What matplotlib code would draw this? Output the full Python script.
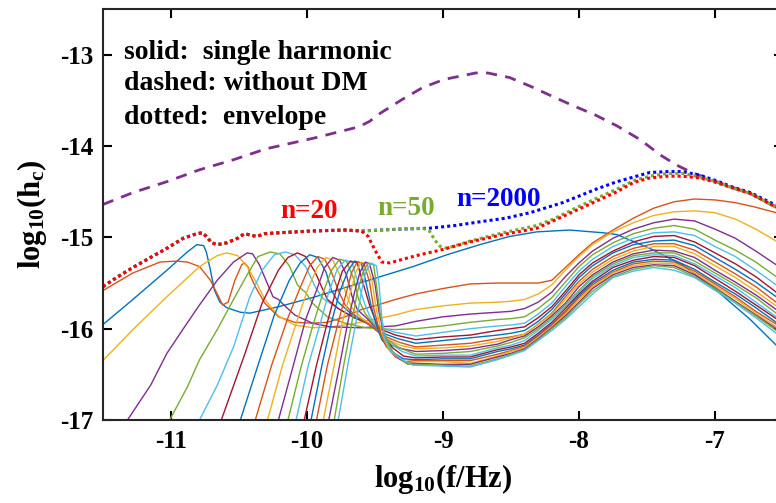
import matplotlib
matplotlib.use('Agg')
import matplotlib.pyplot as plt

plt.rcParams['font.family'] = 'Liberation Serif'
plt.rcParams['font.weight'] = 'bold'
plt.rcParams['mathtext.fontset'] = 'custom'
plt.rcParams['mathtext.rm'] = 'Liberation Serif:bold'
plt.rcParams['mathtext.it'] = 'Liberation Serif:bold'
plt.rcParams['mathtext.bf'] = 'Liberation Serif:bold'
plt.rcParams['axes.unicode_minus'] = False

# matlab default colour order
colors = ['#0072BD', '#D95319', '#EDB120', '#7E2F8E', '#77AC30', '#4DBEEE', '#A2142F']

# ---- harmonic n=1 (whole curve)
h1_f = [-11.52, -11.28, -11.03, -10.88, -10.81, -10.76, -10.74, -10.71, -10.68, -10.64,
        -10.59, -10.49, -10.42, -10.21, -9.96, -9.72, -9.46, -9.22, -8.97, -8.73,
        -8.51, -8.31, -8.07, -7.82, -7.72, -7.48, -7.24, -6.99, -6.74, -6.55]
h1_h = [-15.98, -15.68, -15.36, -15.16, -15.08, -15.09, -15.16, -15.36, -15.58, -15.71,
        -15.77, -15.82, -15.83, -15.76, -15.66, -15.55, -15.43, -15.32, -15.19, -15.08,
        -14.99, -14.94, -14.92, -14.95, -14.97, -15.12, -15.30, -15.58, -15.90, -16.18]

# ---- harmonics n=2..20, left part (each its own points)
head_f = [
    [-11.52, -11.28, -11.08, -10.96, -10.88, -10.79, -10.71, -10.65, -10.62, -10.58, -10.53, -10.48, -10.46,
     -10.43, -10.42, -10.38, -10.31, -10.21, -10.09, -9.96, -9.85, -9.72, -9.60, -9.48, -9.35],
    [-11.52, -11.28, -11.03, -10.79, -10.66, -10.59, -10.51, -10.44, -10.37, -10.31, -10.21, -10.09, -9.96,
     -9.82, -9.67, -9.52, -9.35],
    [-11.32, -11.15, -11.03, -10.90, -10.79, -10.66, -10.54, -10.44, -10.40, -10.35, -10.29, -10.25, -10.21,
     -10.17, -10.09, -9.96, -9.83, -9.61, -9.35],
    [-11.01, -10.88, -10.79, -10.66, -10.54, -10.44, -10.36, -10.27, -10.20, -10.13, -10.07, -10.03, -10.01,
     -9.96, -9.85, -9.72, -9.57, -9.35],
    [-10.79, -10.66, -10.54, -10.42, -10.33, -10.24, -10.16, -10.09, -10.01, -9.94, -9.89, -9.79, -9.67, -9.52, -9.35],
    [-10.63, -10.46, -10.33, -10.21, -10.14, -10.07, -10.01, -9.94, -9.89, -9.85, -9.77, -9.65, -9.50, -9.35],
    [-10.49, -10.36, -10.24, -10.13, -10.05, -9.98, -9.92, -9.86, -9.82, -9.77, -9.68, -9.57, -9.46, -9.33],
    [-10.38, -10.26, -10.14, -10.05, -9.98, -9.92, -9.87, -9.82, -9.77, -9.72, -9.65, -9.54, -9.45, -9.32],
    [-10.29, -10.18, -10.07, -9.99, -9.92, -9.86, -9.81, -9.76, -9.71, -9.67, -9.60, -9.50, -9.43, -9.32],
    [-10.21, -10.10, -10.01, -9.93, -9.87, -9.81, -9.76, -9.71, -9.67, -9.63, -9.55, -9.46, -9.42, -9.30],
    [-10.14, -10.04, -9.95, -9.88, -9.82, -9.76, -9.71, -9.66, -9.62, -9.57, -9.51, -9.43, -9.32],
    [-10.08, -9.99, -9.90, -9.84, -9.78, -9.72, -9.67, -9.63, -9.58, -9.54, -9.48, -9.40, -9.30],
    [-10.02, -9.93, -9.85, -9.79, -9.74, -9.68, -9.63, -9.59, -9.54, -9.50, -9.44, -9.37, -9.29],
    [-9.97, -9.89, -9.82, -9.76, -9.70, -9.65, -9.60, -9.57, -9.53, -9.49, -9.45, -9.38, -9.29],
    [-9.93, -9.85, -9.77, -9.71, -9.67, -9.63, -9.58, -9.54, -9.51, -9.47, -9.42, -9.35, -9.28],
    [-9.88, -9.80, -9.74, -9.68, -9.64, -9.60, -9.56, -9.52, -9.49, -9.45, -9.40, -9.33, -9.27],
    [-9.84, -9.76, -9.70, -9.65, -9.61, -9.57, -9.54, -9.50, -9.47, -9.43, -9.38, -9.32, -9.26],
    [-9.80, -9.73, -9.67, -9.63, -9.59, -9.55, -9.51, -9.49, -9.46, -9.42, -9.37, -9.30, -9.26],
    [-9.77, -9.70, -9.64, -9.60, -9.57, -9.53, -9.49, -9.47, -9.45, -9.43, -9.38, -9.30, -9.22],
]
head_h = [
    [-15.60, -15.39, -15.27, -15.26, -15.27, -15.32, -15.47, -15.65, -15.74, -15.71, -15.47, -15.30, -15.28,
     -15.33, -15.41, -15.54, -15.72, -15.87, -15.93, -15.94, -15.93, -15.87, -15.79, -15.74, -15.68],
    [-16.38, -16.01, -15.65, -15.32, -15.20, -15.17, -15.20, -15.32, -15.50, -15.68, -15.86, -15.96, -15.99,
     -15.98, -15.95, -15.90, -15.85],
    [-17.0, -16.62, -16.27, -15.98, -15.74, -15.47, -15.27, -15.17, -15.18, -15.30, -15.51, -15.65, -15.68,
     -15.74, -15.85, -15.94, -15.98, -15.99, -15.97],
    [-17.0, -16.64, -16.34, -16.01, -15.68, -15.41, -15.21, -15.16, -15.18, -15.31, -15.52, -15.58, -15.60,
     -15.72, -15.87, -15.94, -15.99, -16.01],
    [-17.0, -16.62, -16.20, -15.65, -15.36, -15.19, -15.16, -15.19, -15.32, -15.54, -15.66, -15.76, -15.87, -15.96, -16.04],
    [-17.0, -16.29, -15.72, -15.36, -15.22, -15.17, -15.21, -15.38, -15.55, -15.68, -15.78, -15.88, -15.98, -16.07],
    [-17.0, -16.40, -15.85, -15.47, -15.28, -15.19, -15.22, -15.38, -15.58, -15.71, -15.83, -15.93, -16.04, -16.11],
    [-17.0, -16.40, -15.88, -15.55, -15.31, -15.21, -15.24, -15.38, -15.58, -15.74, -15.85, -15.96, -16.07, -16.15],
    [-17.0, -16.40, -15.90, -15.55, -15.32, -15.22, -15.25, -15.41, -15.63, -15.77, -15.88, -15.98, -16.10, -16.18],
    [-17.0, -16.40, -15.90, -15.58, -15.33, -15.22, -15.25, -15.41, -15.64, -15.79, -15.90, -16.04, -16.16, -16.22],
    [-17.0, -16.40, -15.93, -15.60, -15.36, -15.24, -15.26, -15.44, -15.68, -15.84, -15.95, -16.10, -16.21],
    [-17.0, -16.40, -15.93, -15.60, -15.36, -15.25, -15.27, -15.47, -15.71, -15.86, -15.99, -16.15, -16.25],
    [-17.0, -16.40, -15.93, -15.60, -15.37, -15.26, -15.28, -15.49, -15.74, -15.90, -16.08, -16.21, -16.30],
    [-17.0, -16.40, -15.93, -15.60, -15.37, -15.26, -15.28, -15.47, -15.74, -15.96, -16.12, -16.25, -16.33],
    [-17.0, -16.40, -15.93, -15.60, -15.38, -15.27, -15.29, -15.49, -15.77, -16.01, -16.19, -16.31, -16.36],
    [-17.0, -16.40, -15.93, -15.60, -15.38, -15.27, -15.29, -15.49, -15.79, -16.05, -16.22, -16.32, -16.38],
    [-17.0, -16.40, -15.93, -15.60, -15.38, -15.27, -15.29, -15.51, -15.82, -16.08, -16.24, -16.33, -16.38],
    [-17.0, -16.40, -15.93, -15.60, -15.39, -15.28, -15.30, -15.52, -15.85, -16.10, -16.25, -16.34, -16.39],
    [-17.0, -16.40, -15.93, -15.60, -15.39, -15.28, -15.31, -15.52, -15.88, -16.10, -16.25, -16.34, -16.40],
]

# ---- harmonics n=2..20, right part read on a common frequency grid
tail_f = [-9.2, -9.0, -8.8, -8.6, -8.5, -8.4, -8.3, -8.2, -8.1, -8.0,
          -7.9, -7.75, -7.6, -7.45, -7.3, -7.15, -7.0, -6.85, -6.7, -6.55]
tail_h = [
    [-15.62, -15.56, -15.51, -15.50, -15.50, -15.50, -15.50, -15.47, -15.33, -15.19,
     -15.06, -14.92, -14.79, -14.68, -14.61, -14.58, -14.59, -14.62, -14.67, -14.73],
    [-15.79, -15.75, -15.72, -15.71, -15.70, -15.68, -15.62, -15.52, -15.36, -15.21,
     -15.08, -14.94, -14.84, -14.76, -14.72, -14.71, -14.73, -14.80, -14.91, -15.04],
    [-15.92, -15.87, -15.84, -15.82, -15.81, -15.78, -15.71, -15.60, -15.43, -15.28,
     -15.15, -15.01, -14.91, -14.84, -14.80, -14.82, -14.91, -15.01, -15.15, -15.30],
    [-16.00, -15.97, -15.93, -15.90, -15.89, -15.87, -15.78, -15.66, -15.49, -15.32,
     -15.19, -15.06, -14.96, -14.90, -14.87, -14.91, -15.03, -15.14, -15.27, -15.43],
    [-16.08, -16.04, -16.00, -15.97, -15.96, -15.94, -15.84, -15.72, -15.54, -15.37,
     -15.24, -15.10, -15.01, -14.95, -14.94, -14.98, -15.10, -15.21, -15.36, -15.52],
    [-16.12, -16.09, -16.07, -16.02, -16.00, -15.98, -15.88, -15.76, -15.59, -15.41,
     -15.28, -15.15, -15.05, -14.99, -14.98, -15.05, -15.17, -15.29, -15.43, -15.60],
    [-16.16, -16.13, -16.10, -16.07, -16.05, -16.02, -15.92, -15.79, -15.62, -15.44,
     -15.31, -15.17, -15.08, -15.04, -15.03, -15.09, -15.22, -15.35, -15.49, -15.65],
    [-16.20, -16.18, -16.16, -16.11, -16.09, -16.06, -15.95, -15.83, -15.65, -15.48,
     -15.35, -15.21, -15.12, -15.07, -15.07, -15.14, -15.27, -15.40, -15.54, -15.71],
    [-16.22, -16.21, -16.19, -16.14, -16.10, -16.06, -15.95, -15.84, -15.68, -15.51,
     -15.38, -15.24, -15.15, -15.10, -15.10, -15.18, -15.31, -15.44, -15.59, -15.75],
    [-16.25, -16.24, -16.22, -16.17, -16.12, -16.08, -15.98, -15.86, -15.72, -15.54,
     -15.41, -15.27, -15.18, -15.14, -15.15, -15.22, -15.36, -15.49, -15.63, -15.79],
    [-16.28, -16.27, -16.25, -16.19, -16.15, -16.10, -16.00, -15.88, -15.74, -15.58,
     -15.43, -15.29, -15.20, -15.17, -15.17, -15.26, -15.39, -15.52, -15.66, -15.83],
    [-16.30, -16.29, -16.29, -16.21, -16.18, -16.13, -16.02, -15.90, -15.76, -15.60,
     -15.45, -15.31, -15.22, -15.19, -15.20, -15.29, -15.42, -15.55, -15.71, -15.87],
    [-16.32, -16.31, -16.31, -16.23, -16.20, -16.16, -16.05, -15.93, -15.78, -15.62,
     -15.48, -15.33, -15.25, -15.21, -15.22, -15.31, -15.45, -15.59, -15.74, -15.89],
    [-16.34, -16.33, -16.33, -16.25, -16.22, -16.18, -16.07, -15.95, -15.81, -15.64,
     -15.50, -15.36, -15.27, -15.24, -15.25, -15.35, -15.49, -15.62, -15.77, -15.93],
    [-16.35, -16.35, -16.35, -16.28, -16.24, -16.19, -16.08, -15.96, -15.82, -15.66,
     -15.52, -15.38, -15.29, -15.26, -15.27, -15.37, -15.51, -15.65, -15.81, -15.95],
    [-16.36, -16.36, -16.38, -16.30, -16.25, -16.21, -16.10, -15.98, -15.84, -15.68,
     -15.54, -15.39, -15.31, -15.28, -15.29, -15.39, -15.53, -15.67, -15.83, -15.98],
    [-16.38, -16.39, -16.39, -16.31, -16.27, -16.22, -16.11, -15.99, -15.86, -15.71,
     -15.56, -15.41, -15.33, -15.30, -15.31, -15.41, -15.55, -15.70, -15.85, -16.00],
    [-16.39, -16.40, -16.41, -16.33, -16.28, -16.23, -16.12, -16.00, -15.88, -15.73,
     -15.59, -15.43, -15.35, -15.31, -15.33, -15.43, -15.56, -15.71, -15.86, -16.02],
    [-16.40, -16.41, -16.42, -16.34, -16.29, -16.24, -16.13, -16.02, -15.90, -15.76,
     -15.62, -15.44, -15.37, -15.33, -15.36, -15.44, -15.58, -15.72, -15.88, -16.05],
]

# ---- envelopes (dotted): common low-frequency part, then one tail per n
env_f0 = [-11.5, -11.40, -11.28, -11.15, -11.03, -10.91, -10.81, -10.77, -10.74, -10.70,
          -10.66, -10.59, -10.51, -10.46, -10.37, -10.31, -10.21, -9.96, -9.72, -9.60]
env_h0 = [-15.54, -15.44, -15.33, -15.22, -15.12, -15.01, -14.96, -14.95, -14.99, -15.06,
          -15.08, -15.06, -15.01, -14.96, -14.99, -14.96, -14.95, -14.93, -14.92, -14.93]

env20_f = [-9.55, -9.50, -9.45, -9.39, -9.32, -9.17, -9.02, -8.80, -8.56, -8.31, -8.19,
           -7.97, -7.72, -7.60, -7.48, -7.35, -7.24, -7.11, -6.99, -6.87, -6.74, -6.55]
env20_h = [-14.99, -15.14, -15.27, -15.28, -15.25, -15.19, -15.14, -15.05, -14.97, -14.90, -14.82,
           -14.67, -14.50, -14.40, -14.35, -14.33, -14.33, -14.35, -14.40, -14.46, -14.52, -14.67]

env50_f = [-9.46, -9.32, -9.15, -9.10, -9.06, -9.02, -8.97, -8.80, -8.56, -8.31, -8.19,
           -7.97, -7.72, -7.60, -7.48, -7.35, -7.24, -7.11, -6.99, -6.87, -6.74, -6.55]
env50_h = [-14.92, -14.91, -14.90, -14.93, -15.03, -15.10, -15.12, -15.04, -14.95, -14.87, -14.80,
           -14.64, -14.47, -14.38, -14.33, -14.30, -14.30, -14.34, -14.39, -14.46, -14.52, -14.67]

env2000_f = [-9.46, -9.32, -9.10, -8.91, -8.73, -8.54, -8.36, -8.12, -7.87, -7.72,
             -7.60, -7.48, -7.35, -7.24, -7.11, -6.99, -6.87, -6.74, -6.55]
env2000_h = [-14.92, -14.91, -14.90, -14.87, -14.83, -14.79, -14.73, -14.62, -14.47, -14.39,
             -14.34, -14.29, -14.28, -14.28, -14.32, -14.38, -14.45, -14.51, -14.65]

# ---- without DM (dashed)
nodm_f = [-11.5, -11.28, -11.03, -10.79, -10.54, -10.30, -9.94, -9.62, -9.54, -9.46, -9.30, -9.15, -8.99, -8.76, -8.67,
          -8.51, -8.35, -8.19, -8.04, -7.88, -7.72, -7.55, -7.40, -7.28, -7.17, -6.99, -6.74, -6.55]
nodm_h = [-14.64, -14.51, -14.39, -14.26, -14.15, -14.03, -13.91, -13.79, -13.73, -13.64, -13.49, -13.36, -13.27, -13.20, -13.20,
          -13.25, -13.35, -13.46, -13.56, -13.66, -13.78, -13.93, -14.10, -14.21, -14.29, -14.39, -14.52, -14.67]

fig = plt.figure(figsize=(7.76, 5.03), dpi=100)
ax = fig.add_axes([0.1327, 0.165, 0.8763, 0.817])

ax.plot(h1_f, h1_h, color=colors[0], lw=1.0)
for i in range(len(head_f)):
    n = i + 2
    ax.plot(head_f[i] + tail_f, head_h[i] + tail_h[i], color=colors[(n - 1) % 7], lw=1.0)

ax.plot(nodm_f, nodm_h, color='#7E2F8E', lw=2.0, dashes=(4, 3))

ax.plot(env_f0 + env2000_f, env_h0 + env2000_h, color='blue', lw=2.2, dashes=(1, 1))
ax.plot(env_f0 + env50_f, env_h0 + env50_h, color='#77AC30', lw=2.2, dashes=(1, 1))
ax.plot(env_f0 + env20_f, env_h0 + env20_h, color='red', lw=2.2, dashes=(1, 1))

ax.text(0.031, 0.895, 'solid:  single harmonic', transform=ax.transAxes, fontsize=20, va='center')
ax.text(0.031, 0.820, 'dashed: without DM', transform=ax.transAxes, fontsize=20, va='center')
ax.text(0.031, 0.737, 'dotted:  envelope', transform=ax.transAxes, fontsize=20, va='center')

ax.text(-10.20, -14.72, 'n=20', color='red', fontsize=19.5, va='center')
ax.text(-9.48, -14.68, 'n=50', color='#77AC30', fontsize=19.5, va='center')
ax.text(-8.90, -14.59, 'n=2000', color='blue', fontsize=19.5, va='center')

ax.set_xlim(-11.5, -6.5)
ax.set_ylim(-17, -12.5)
ax.set_xticks([-11, -10, -9, -8, -7])
ax.set_yticks([-17, -16, -15, -14, -13])
ax.tick_params(direction='in', length=6.5, width=1.5, top=True, right=True, labelsize=18, pad=7)
for s in ax.spines.values():
    s.set_linewidth(1.5)
    s.set_color('#262626')

ax.set_xlabel('log$_{10}$(f/Hz)', fontsize=22, fontweight='bold', labelpad=7)
ax.set_ylabel('log$_{10}$(h$_{c}$)', fontsize=22, fontweight='bold', labelpad=8)

fig.savefig('out.png', dpi=100)
